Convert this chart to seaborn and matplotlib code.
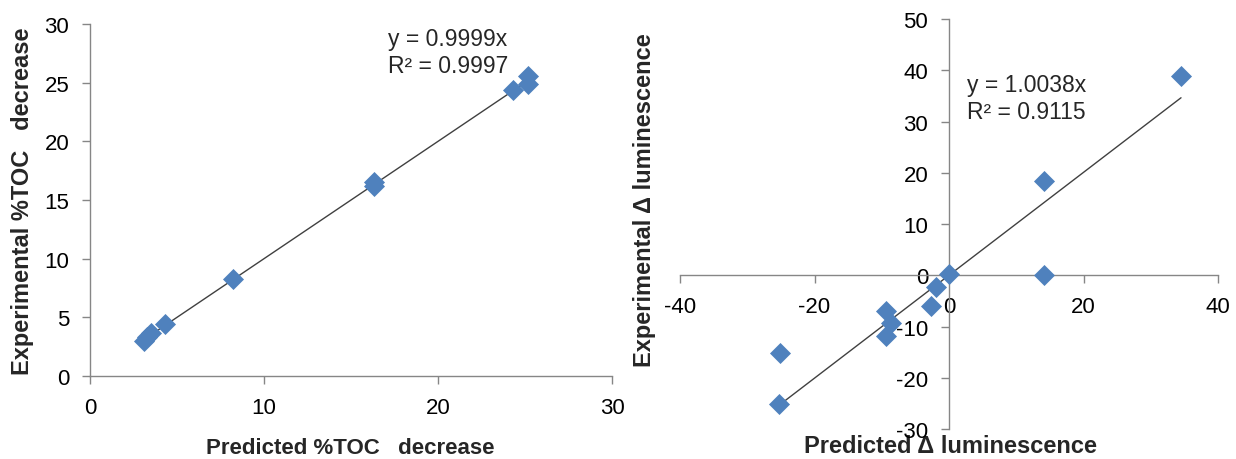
import numpy as np
import pandas as pd
import matplotlib
matplotlib.use("Agg")
import matplotlib.pyplot as plt
import seaborn as sns

# Data
toc_pred = [3.1, 3.3, 3.5, 4.3, 8.2, 16.3, 16.3, 24.3, 25.2, 25.2]
toc_exp = [3.0, 3.3, 3.7, 4.4, 8.3, 16.5, 16.2, 24.4, 25.6, 24.9]
toc_slope = 0.9999
toc_eq = ["y = 0.9999x", "R² = 0.9997"]

lum_pred = [34.5, 14.1, 14.1, 0.0, -1.9, -2.7, -9.4, -8.6, -9.4, -25.1, -25.3]
lum_exp = [38.8, 18.3, 0.0, 0.2, -2.2, -6.0, -7.0, -9.4, -11.9, -15.2, -25.2]
lum_slope = 1.0038
lum_eq = ["y = 1.0038x", "R² = 0.9115"]

left_xticks = [0, 10, 20, 30]
left_yticks = [0, 5, 10, 15, 20, 25, 30]
right_xticks = [-40, -20, 0, 20, 40]
right_yticks = [-30, -20, -10, 0, 10, 20, 30, 40, 50]

sns.set_theme(style="white")
plt.rcParams['font.family'] = ['Liberation Sans', 'DejaVu Sans']
plt.rcParams['axes.unicode_minus'] = False

W, H = 1236, 460
fig = plt.figure(figsize=(W / 100, H / 100), dpi=100)
ax1 = fig.add_axes([90 / W, 1 - 377 / H, (612 - 90) / W, (377 - 25) / H])
ax2 = fig.add_axes([680 / W, 1 - 430 / H, (1218 - 680) / W, (430 - 20) / H])

blue = "#4F81BD"
spine_c = "#868686"
tick_fs = 16
lab_fs = 17
ann_fs = 16.5

df1 = pd.DataFrame({"pred": toc_pred, "exp": toc_exp})
df2 = pd.DataFrame({"pred": lum_pred, "exp": lum_exp})

for ax, df, slope in [(ax1, df1, toc_slope), (ax2, df2, lum_slope)]:
    xs = np.array([df["pred"].min(), df["pred"].max()])
    ax.plot(xs, slope * xs, color="#404040", lw=1.0, zorder=1)
    sns.scatterplot(data=df, x="pred", y="exp", ax=ax, marker="D", s=115,
                    color=blue, edgecolor=blue, linewidth=0, zorder=3)

# Left axes
ax1.set_xlim(0, 30)
ax1.set_ylim(0, 30)
ax1.set_xticks(left_xticks)
ax1.set_yticks(left_yticks)
for s in ["top", "right"]:
    ax1.spines[s].set_visible(False)
for s in ["left", "bottom"]:
    ax1.spines[s].set_color(spine_c)
    ax1.spines[s].set_linewidth(1.0)
ax1.tick_params(axis="both", direction="out", length=6, width=1, color=spine_c,
                labelsize=tick_fs, labelcolor="#000000", bottom=True, left=True, pad=9)
ax1.set_xlabel("Predicted %TOC   decrease", fontsize=16, fontweight="bold")
ax1.set_ylabel("Experimental %TOC   decrease", fontsize=lab_fs, fontweight="bold")
ax1.xaxis.label.set_va("center")
ax1.yaxis.label.set_va("center")
ax1.xaxis.set_label_coords((350 - 90) / (612 - 90), (377 - 449) / (377 - 25))
ax1.yaxis.set_label_coords((23 - 90) / (612 - 90), 0.5)
ax1.text(388 / W, 1 - 28 / H, toc_eq[0], transform=fig.transFigure, fontsize=ann_fs, va="top", ha="left")
ax1.text(388 / W, 1 - 55 / H, toc_eq[1], transform=fig.transFigure, fontsize=ann_fs, va="top", ha="left")

# Right axes
ax2.set_xlim(-40, 40)
ax2.set_ylim(-30, 50)
ax2.set_xticks(right_xticks)
ax2.set_yticks(right_yticks)
ax2.spines["left"].set_position(("data", 0))
ax2.spines["bottom"].set_position(("data", 0))
for s in ["top", "right"]:
    ax2.spines[s].set_visible(False)
for s in ["left", "bottom"]:
    ax2.spines[s].set_color(spine_c)
    ax2.spines[s].set_linewidth(1.0)
ax2.tick_params(axis="both", direction="out", length=6, width=1, color=spine_c,
                labelsize=tick_fs, labelcolor="#000000", bottom=True, left=True, pad=9)
ax2.set_xlabel("Predicted Δ luminescence", fontsize=lab_fs, fontweight="bold")
ax2.set_ylabel("Experimental Δ luminescence", fontsize=lab_fs, fontweight="bold")
ax2.xaxis.label.set_va("center")
ax2.xaxis.set_label_coords((951 - 680) / (1218 - 680), (430 - 447) / (430 - 20))
ax2.yaxis.label.set_va("center")
ax2.yaxis.set_label_coords((645 - 680) / (1218 - 680), (430 - 200) / (430 - 20))
ax2.text(967 / W, 1 - 74 / H, lum_eq[0], transform=fig.transFigure, fontsize=ann_fs, va="top", ha="left")
ax2.text(967 / W, 1 - 101 / H, lum_eq[1], transform=fig.transFigure, fontsize=ann_fs, va="top", ha="left")

fig.savefig("out.png", dpi=100)
